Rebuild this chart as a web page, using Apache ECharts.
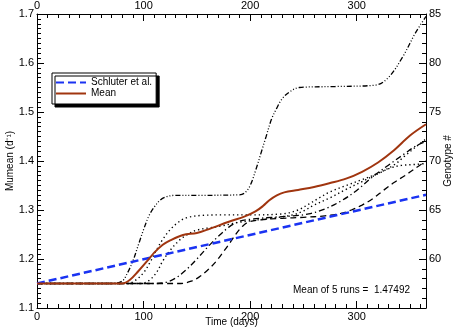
<!DOCTYPE html>
<html>
<head>
<meta charset="utf-8">
<script src="https://cdn.jsdelivr.net/npm/echarts@6/dist/echarts.min.js"></script>
<style>
  html, body { margin: 0; padding: 0; background: #fff; }
  #chart { width: 459px; height: 334px; }
</style>
</head>
<body>
<div id="chart"></div>
<script>
// values
const schluterDays = [0, 365];
const schluterVals = [1.15, 1.331];

const meanDays = [0, 80, 87, 95, 105, 110, 118, 125, 137, 150, 160, 180, 195, 205, 212, 218, 225, 232, 245, 260, 275, 290, 305, 320, 335, 350, 365];
const meanVals = [1.15, 1.15, 1.157, 1.175, 1.2, 1.213, 1.229, 1.238, 1.249, 1.253, 1.26, 1.276, 1.287, 1.297, 1.308, 1.32, 1.33, 1.336, 1.341, 1.347, 1.355, 1.364, 1.378, 1.397, 1.422, 1.452, 1.475];

// run 1: dash dot dot dot
const run1Days = [0, 70, 80, 85, 90, 95, 100, 105, 110, 115, 120, 130, 150, 190, 195, 200, 205, 211, 215, 220, 225, 230, 237, 246, 280, 318, 330, 343, 355, 365];
const run1Vals = [1.15, 1.15, 1.155, 1.172, 1.196, 1.228, 1.26, 1.288, 1.306, 1.319, 1.326, 1.33, 1.33, 1.331, 1.335, 1.35, 1.38, 1.422, 1.45, 1.485, 1.508, 1.527, 1.541, 1.55, 1.552, 1.555, 1.571, 1.612, 1.661, 1.695];

// run 2: dotted, upper plateau
const run2Days = [0, 85, 92, 100, 106, 112, 118, 125, 132, 140, 155, 175, 200, 230, 245, 255, 265, 275, 290, 305, 320, 335, 345, 355, 365];
const run2Vals = [1.15, 1.15, 1.156, 1.172, 1.193, 1.218, 1.24, 1.26, 1.274, 1.284, 1.289, 1.29, 1.29, 1.292, 1.3, 1.312, 1.325, 1.337, 1.35, 1.362, 1.375, 1.392, 1.41, 1.428, 1.445];

// run 3: dotted, lower plateau
const run3Days = [0, 98, 105, 112, 118, 125, 134, 142, 150, 160, 172, 185, 200, 220, 240, 250, 260, 275, 290, 305, 320, 332, 342, 355, 365];
const run3Vals = [1.15, 1.15, 1.156, 1.172, 1.196, 1.218, 1.239, 1.251, 1.259, 1.263, 1.267, 1.273, 1.278, 1.283, 1.29, 1.298, 1.31, 1.325, 1.342, 1.358, 1.374, 1.386, 1.391, 1.393, 1.395];

// run 4: dash dot
const run4Days = [0, 112, 122, 130, 140, 150, 160, 170, 180, 190, 200, 220, 240, 255, 270, 285, 300, 314, 330, 345, 355, 365];
const run4Vals = [1.15, 1.15, 1.153, 1.161, 1.178, 1.2, 1.224, 1.246, 1.265, 1.277, 1.281, 1.285, 1.288, 1.292, 1.302, 1.318, 1.34, 1.366, 1.392, 1.415, 1.43, 1.44];

// run 5: dashed
const run5Days = [0, 135, 145, 152, 160, 168, 175, 181, 187, 192, 198, 210, 230, 250, 270, 285, 295, 305, 315, 325, 335, 345, 355, 365];
const run5Vals = [1.15, 1.15, 1.155, 1.163, 1.177, 1.195, 1.215, 1.233, 1.252, 1.265, 1.275, 1.28, 1.283, 1.285, 1.288, 1.293, 1.3, 1.31, 1.323, 1.34, 1.356, 1.37, 1.385, 1.4];

const meanText = "Mean of 5 runs =  1.47492";

const font = "Liberation Sans";
const pairs = (xs, ys) => xs.map((x, i) => [x, ys[i]]);

const chart = echarts.init(document.getElementById("chart"), null, { renderer: "canvas" });

const xMajor = (pos) => ({
  type: "value",
  position: pos,
  min: 0,
  max: 365,
  interval: 100,
  axisLine: { show: true, onZero: false, lineStyle: { color: "#000", width: 1 } },
  axisTick: { show: true, inside: true, length: 7, lineStyle: { color: "#000" } },
  axisLabel: {
    show: true,
    margin: 3,
    color: "#000",
    fontSize: 11,
    fontFamily: font,
    formatter: (v) => (v % 100 === 0 ? String(v) : ""),
  },
  splitLine: { show: false },
});

const xMinor = (pos) => ({
  type: "value",
  position: pos,
  min: 0,
  max: 365,
  interval: 10,
  axisLine: { show: false, onZero: false },
  axisTick: { show: true, inside: true, length: 4, lineStyle: { color: "#000" } },
  axisLabel: { show: false },
  splitLine: { show: false },
});

const blackRun = (name, days, vals, dash, width) => ({
  name: name,
  type: "line",
  data: pairs(days, vals),
  showSymbol: false,
  symbol: "none",
  smooth: 0.35,
  lineStyle: { color: "#000", width: width, type: dash },
  z: 2,
});

const option = {
  animation: false,
  backgroundColor: "#fff",
  grid: { left: 37, right: 33, top: 14, bottom: 26, containLabel: false, outerBoundsMode: "none" },
  legend: {
    data: ["Schluter et al.", "Mean"],
    orient: "vertical",
    left: 52,
    top: 73,
    padding: [4, 4, 5, 3],
    itemGap: 0,
    itemWidth: 30,
    itemHeight: 11,
    backgroundColor: "#fff",
    borderColor: "#000",
    borderWidth: 1,
    shadowColor: "#000",
    shadowBlur: 0,
    shadowOffsetX: 3,
    shadowOffsetY: 3,
    itemStyle: { opacity: 0 },
    textStyle: { color: "#000", fontSize: 10, fontFamily: font, lineHeight: 11 },
  },
  xAxis: [
    Object.assign(xMajor("bottom"), {
      name: "Time (days)",
      nameLocation: "middle",
      nameGap: 9,
      nameMoveOverlap: false,
      nameTextStyle: { color: "#000", fontSize: 10, fontFamily: font, verticalAlign: "top" },
    }),
    xMinor("bottom"),
    xMajor("top"),
    xMinor("top"),
  ],
  yAxis: [
    {
      type: "value",
      position: "left",
      min: 1.1,
      max: 1.7,
      interval: 0.1,
      name: "Mumean (d\u207B\u00B9)",
      nameLocation: "middle",
      nameGap: 22,
      nameRotate: 90,
      nameMoveOverlap: false,
      nameTextStyle: { color: "#000", fontSize: 10, fontFamily: font },
      axisLine: { show: true, onZero: false, lineStyle: { color: "#000", width: 1 } },
      axisTick: { show: true, inside: true, length: 7, lineStyle: { color: "#000" } },
      minorTick: { show: true, splitNumber: 10, length: 4, lineStyle: { color: "#000" } },
      axisLabel: { margin: 3, color: "#000", fontSize: 11, fontFamily: font, formatter: (v) => v.toFixed(1) },
      splitLine: { show: false },
    },
    {
      type: "value",
      position: "right",
      min: 55,
      max: 85,
      interval: 5,
      name: "Genotype #",
      nameLocation: "middle",
      nameGap: 17,
      nameRotate: 90,
      nameMoveOverlap: false,
      nameTextStyle: { color: "#000", fontSize: 10, fontFamily: font },
      axisLine: { show: true, onZero: false, lineStyle: { color: "#000", width: 1 } },
      axisTick: { show: true, inside: true, length: 7, lineStyle: { color: "#000" } },
      minorTick: { show: true, splitNumber: 5, length: 4, lineStyle: { color: "#000" } },
      axisLabel: { margin: 3, color: "#000", fontSize: 11, fontFamily: font, formatter: (v) => (v === 55 ? "" : String(v)) },
      splitLine: { show: false },
    },
  ],
  graphic: [
    {
      type: "text",
      left: 293,
      top: 285,
      style: { text: meanText, fill: "#000", fontSize: 10, fontFamily: font },
    },
  ],
  series: [
    blackRun("run1", run1Days, run1Vals, [5, 2, 1, 2, 1, 2, 1, 2], 1.3),
    blackRun("run2", run2Days, run2Vals, [1.3, 3], 1.4),
    blackRun("run3", run3Days, run3Vals, [1.3, 3], 1.4),
    blackRun("run4", run4Days, run4Vals, [6, 3, 1.3, 3], 1.3),
    blackRun("run5", run5Days, run5Vals, [6, 4], 1.3),
    {
      name: "Schluter et al.",
      type: "line",
      data: pairs(schluterDays, schluterVals),
      showSymbol: false,
      symbol: "none",
      lineStyle: { color: "#1a33f2", width: 2.5, type: [8, 4] },
      itemStyle: { color: "#1a33f2" },
      z: 3,
    },
    {
      name: "Mean",
      type: "line",
      data: pairs(meanDays, meanVals),
      showSymbol: false,
      symbol: "none",
      smooth: 0.35,
      lineStyle: { color: "#a0350f", width: 2 },
      itemStyle: { color: "#a0350f" },
      z: 4,
    },
  ],
};

chart.setOption(option);
</script>
</body>
</html>
